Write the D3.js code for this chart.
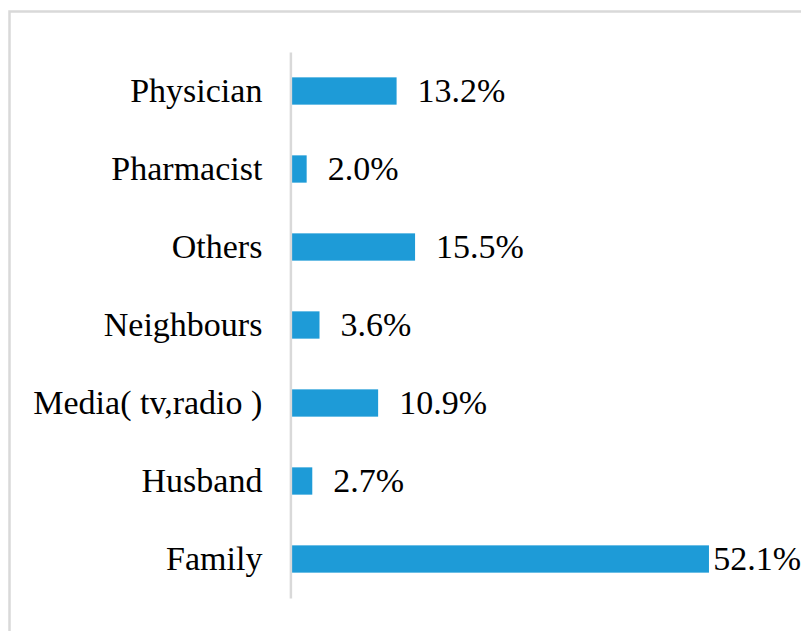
<!DOCTYPE html>
<html lang="en">
<head>
<meta charset="utf-8">
<title>Source of information</title>
<script src="https://cdn.jsdelivr.net/npm/d3@7"></script>
<style>
  body { margin: 0; background: #fff; }
</style>
</head>
<body>
<script>
var w = 801;
var h = 631;

// data, top to bottom
var categories = ["Physician", "Pharmacist", "Others", "Neighbours", "Media( tv,radio )", "Husband", "Family"];
var values = [13.2, 2.0, 15.5, 3.6, 10.9, 2.7, 52.1];

var fontSize = 34;
var font = "'Liberation Serif', 'Times New Roman', Times, serif";

var svg = d3.select("body").append("svg")
  .attr("width", w)
  .attr("height", h);

// chart frame (right and bottom edges run off the picture)
svg.append("rect")
  .attr("x", 9.5)
  .attr("y", 11.5)
  .attr("width", w + 20)
  .attr("height", h + 20)
  .attr("fill", "none")
  .attr("stroke", "#d9d9d9")
  .attr("stroke-width", 2.5);

var xScale = d3.scaleLinear()
  .domain([0, 60])
  .range([290.6, 772.4]);

var yScale = d3.scaleBand()
  .domain(categories)
  .range([52, 598])
  .paddingInner(0.65)
  .paddingOuter(0.325);

// bars
svg.selectAll("rect.bar")
  .data(values)
  .enter()
  .append("rect")
  .attr("class", "bar")
  .attr("x", xScale(0))
  .attr("y", function(d, i) { return yScale(categories[i]); })
  .attr("width", function(d) { return xScale(d) - xScale(0); })
  .attr("height", yScale.bandwidth())
  .attr("fill", "#1e9bd7");

// category axis
var yAxis = d3.axisLeft(yScale).tickSize(0).tickSizeOuter(0).tickPadding(28);
var axisG = svg.append("g")
  .attr("transform", "translate(290.4,0)")
  .call(yAxis);
axisG.attr("font-family", font).attr("font-size", fontSize);
axisG.select(".domain")
  .attr("stroke", "#d9d9d9")
  .attr("stroke-width", 2.5);
axisG.selectAll(".tick text")
  .style("font-family", font)
  .style("font-size", fontSize + "px")
  .attr("dy", "0.32em")
  .attr("fill", "#000");

// value labels
svg.selectAll("text.val")
  .data(values)
  .enter()
  .append("text")
  .attr("class", "val")
  .style("font-family", font)
  .style("font-size", fontSize + "px")
  .attr("fill", "#000")
  .attr("y", function(d, i) { return yScale(categories[i]) + yScale.bandwidth() / 2; })
  .attr("dy", "0.32em")
  .text(function(d) { return d.toFixed(1) + "%"; })
  .attr("x", function(d) {
    var len = this.getComputedTextLength();
    return Math.min(xScale(d) + 21, w - len);
  });
</script>
</body>
</html>
